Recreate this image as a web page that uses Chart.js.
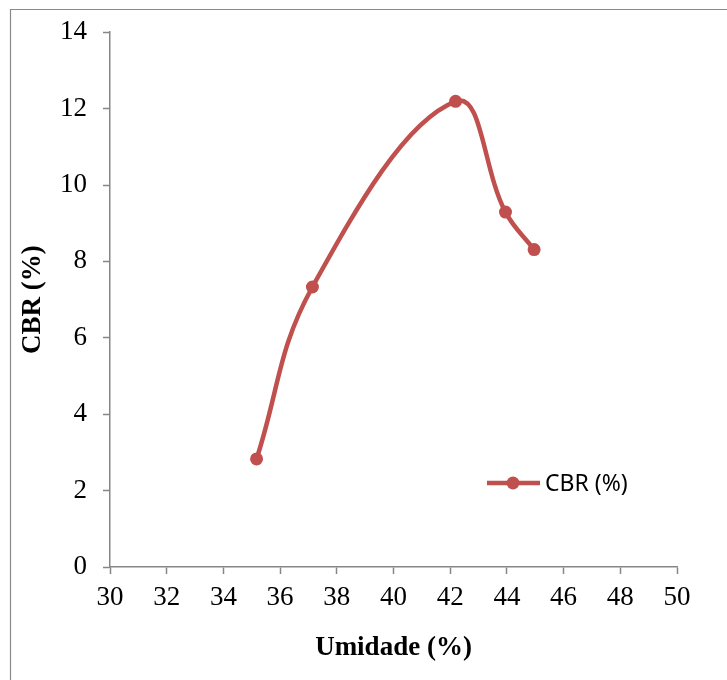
<!DOCTYPE html>
<html>
<head>
<meta charset="utf-8">
<title>CBR x Umidade</title>
<script src="https://cdn.jsdelivr.net/npm/chart.js@4.4.1/dist/chart.umd.min.js"></script>
<style>
    html, body { margin: 0; padding: 0; background: #fff; }
    #wrap { width: 727px; height: 680px; }
</style>
</head>
<body>
<div id="wrap"><canvas id="cbrChart" width="727" height="680"></canvas></div>
<script>
// Dados
const umidade = [35.17, 37.14, 42.19, 43.95, 44.96];
const cbr = [2.83, 7.33, 12.19, 9.29, 8.31];
const seriesLabel = 'CBR (%)';
const xTitle = 'Umidade (%)';
const yTitle = 'CBR (%)';

const RED = '#C0504D';
const GREY = '#868686';
const SERIF = '"Liberation Serif", "Times New Roman", serif';

// Moldura cinza do gráfico (só topo e esquerda aparecem)
const framePlugin = {
    id: 'frame',
    beforeDraw(chart) {
        const c = chart.ctx;
        c.save();
        c.fillStyle = '#fff';
        c.fillRect(0, 0, chart.width, chart.height);
        c.strokeStyle = '#8a8a8a';
        c.lineWidth = 1.2;
        c.beginPath();
        c.moveTo(10.5, chart.height);
        c.lineTo(10.5, 9.5);
        c.lineTo(chart.width, 9.5);
        c.stroke();
        c.restore();
    }
};

// Legenda dentro da área do gráfico, estilo Excel (linha + marcador)
const insideLegend = {
    id: 'insideLegend',
    afterDraw(chart) {
        const c = chart.ctx;
        const ds = chart.data.datasets[0];
        const y = 483;
        c.save();
        c.strokeStyle = ds.borderColor;
        c.lineWidth = 4.5;
        c.beginPath();
        c.moveTo(487, y);
        c.lineTo(540, y);
        c.stroke();
        c.fillStyle = ds.pointBackgroundColor;
        c.beginPath();
        c.arc(513, y, 6.5, 0, Math.PI * 2);
        c.fill();
        c.fillStyle = '#000';
        c.font = '23px "Noto Sans", "Open Sans", sans-serif';
        c.textBaseline = 'middle';
        c.fillText(ds.label, 545, y + 1);
        c.restore();
    }
};

const ctx = document.getElementById('cbrChart');
const chart = new Chart(ctx, {
    type: 'scatter',
    data: {
        datasets: [{
            label: seriesLabel,
            data: umidade.map((u, i) => ({ x: u, y: cbr[i] })),
            showLine: true,
            borderColor: RED,
            backgroundColor: RED,
            pointBackgroundColor: RED,
            pointBorderColor: RED,
            borderWidth: 4.5,
            pointRadius: 6.5,
            pointBorderWidth: 0,
            tension: 0.4
        }]
    },
    options: {
        responsive: false,
        animation: false,
        layout: {
            padding: { top: 30, right: 50, bottom: 0, left: 0 }
        },
        plugins: {
            legend: { display: false },
            tooltip: { enabled: false }
        },
        scales: {
            x: {
                type: 'linear',
                min: 30,
                max: 50,
                afterFit(scale) { scale.height = 113; },
                ticks: {
                    stepSize: 2,
                    color: '#000',
                    padding: 8,
                    maxRotation: 0,
                    font: { family: SERIF, size: 27 }
                },
                grid: {
                    drawOnChartArea: false,
                    drawTicks: true,
                    tickLength: 7,
                    tickColor: GREY,
                    tickWidth: 1.5
                },
                border: { display: true, color: GREY, width: 1.5 },
                title: {
                    display: true,
                    text: xTitle,
                    color: '#000',
                    padding: { top: 0, bottom: 16 },
                    font: { family: SERIF, size: 27, weight: 'bold' }
                }
            },
            y: {
                type: 'linear',
                min: 0,
                max: 14,
                afterFit(scale) { scale.width = 110; },
                ticks: {
                    stepSize: 2,
                    color: '#000',
                    padding: 16,
                    font: { family: SERIF, size: 27 }
                },
                grid: {
                    drawOnChartArea: false,
                    drawTicks: true,
                    tickLength: 7,
                    tickColor: GREY,
                    tickWidth: 1.5
                },
                border: { display: true, color: GREY, width: 1.5 },
                title: {
                    display: true,
                    text: yTitle,
                    color: '#000',
                    padding: { top: 17, bottom: 0 },
                    font: { family: SERIF, size: 27, weight: 'bold' }
                }
            }
        }
    },
    plugins: [framePlugin, insideLegend]
});
</script>
</body>
</html>
